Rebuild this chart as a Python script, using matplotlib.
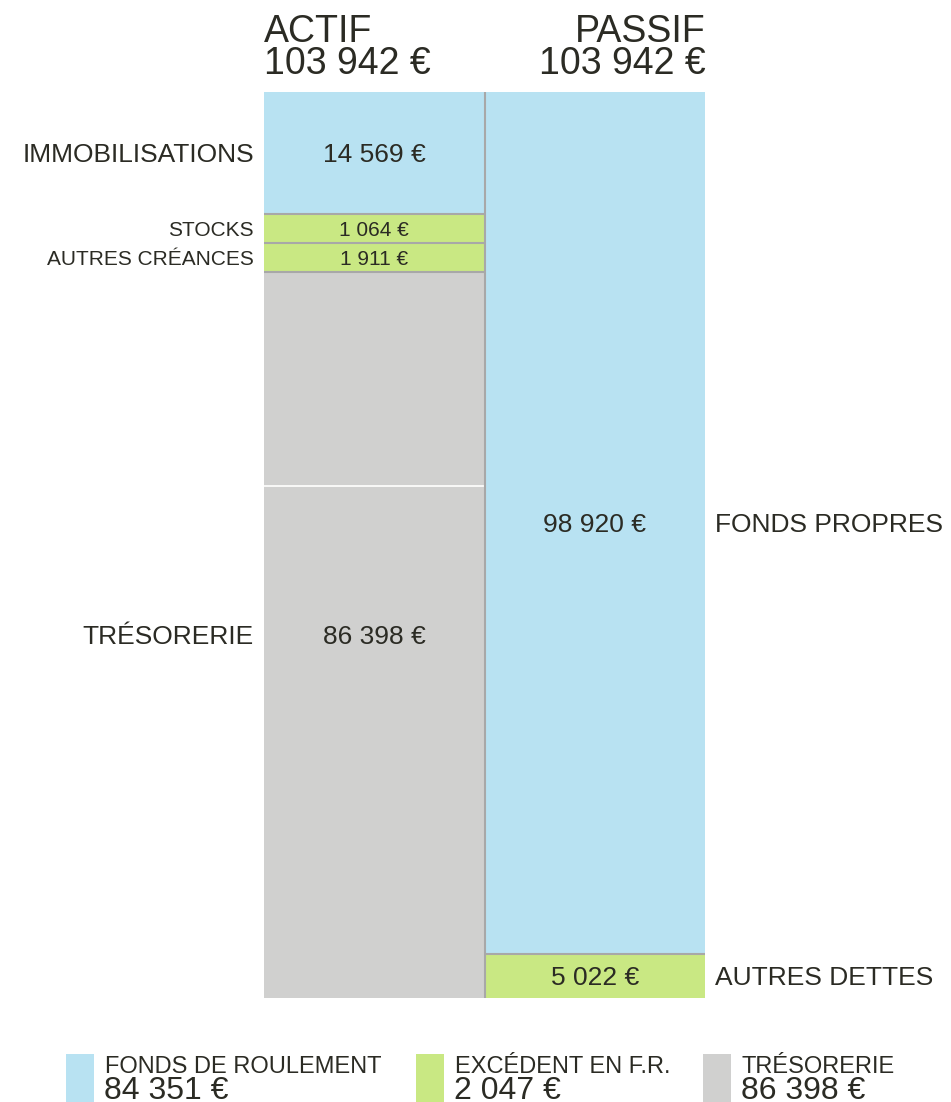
import matplotlib.pyplot as plt
from matplotlib.patches import Rectangle

plt.rcParams['font.family'] = ['Liberation Sans', 'DejaVu Sans']

# bilan simplifié
actif_labels = ['IMMOBILISATIONS', 'STOCKS', 'AUTRES CRÉANCES', 'TRÉSORERIE']
actif_values = [14569, 1064, 1911, 86398]
actif_groups = ['fr', 'exc', 'exc', 'tre']
tresorerie_parts = [25500, 60898]

passif_labels = ['FONDS PROPRES', 'AUTRES DETTES']
passif_values = [98920, 5022]
passif_groups = ['fr', 'exc']

legend_labels = ['FONDS DE ROULEMENT', 'EXCÉDENT EN F.R.', 'TRÉSORERIE']
legend_values = [84351, 2047, 86398]
legend_groups = ['fr', 'exc', 'tre']

colors = {'fr': '#b8e2f2', 'exc': '#c9e883', 'tre': '#d0d0cf'}
ink = '#2b2b24'
sep = '#a8a8a8'


def euro(v):
    return f"{v:,}".replace(",", " ") + " €"


total = sum(passif_values)
min_share = 30 / 906


def display_heights(values):
    h = [max(v, total * min_share) for v in values]
    k = total / sum(h)
    return [x * k for x in h]


W, H = 951, 1102
fig = plt.figure(figsize=(W / 100, H / 100), dpi=100)
ax = fig.add_axes([264 / W, 104 / H, 441 / W, 906 / H])
ax.set_xlim(0, 2)
ax.set_ylim(total, 0)
ax.axis('off')


def draw_column(x0, labels, values, groups, side):
    heights = display_heights(values)
    bottom = 0
    for i, (lab, v, g, h) in enumerate(zip(labels, values, groups, heights)):
        small = v < total * min_share
        fs = 15 if small else 19
        if g == 'tre':
            sub = [h * p / sum(tresorerie_parts) for p in tresorerie_parts]
            b = bottom
            for s in sub:
                ax.bar(x0 + 0.5, s, bottom=b, width=1, color=colors[g], linewidth=0)
                b += s
            ax.hlines(bottom + sub[0], x0, x0 + 1, colors='white', lw=1.2)
        else:
            ax.bar(x0 + 0.5, h, bottom=bottom, width=1, color=colors[g], linewidth=0)
        if i > 0:
            ax.hlines(bottom, x0, x0 + 1, colors=sep, lw=1.5)
        mid = bottom + h / 2
        ax.annotate(euro(v), (x0 + 0.5, mid), xytext=(0, -2), textcoords='offset pixels',
                    ha='center', va='center', fontsize=fs, color=ink)
        if side == 'left':
            ax.annotate(lab, (x0, mid), xytext=(-10, -2), textcoords='offset pixels',
                        ha='right', va='center', fontsize=fs, color=ink)
        else:
            ax.annotate(lab, (x0 + 1, mid), xytext=(10, -2), textcoords='offset pixels',
                        ha='left', va='center', fontsize=fs, color=ink)
        bottom += h


draw_column(0, actif_labels, actif_values, actif_groups, 'left')
draw_column(1, passif_labels, passif_values, passif_groups, 'right')
ax.axvline(1, color=sep, lw=1.5)

# titres
fig.text(264 / W, 1 - 42 / H, 'ACTIF', fontsize=27, color=ink, ha='left', va='baseline')
fig.text(264 / W, 1 - 74 / H, euro(sum(actif_values)), fontsize=27, color=ink, ha='left', va='baseline')
fig.text(706 / W, 1 - 42 / H, 'PASSIF', fontsize=27, color=ink, ha='right', va='baseline')
fig.text(706 / W, 1 - 74 / H, euro(sum(passif_values)), fontsize=27, color=ink, ha='right', va='baseline')

# légende
for xs, lab, v, g in zip([66, 416, 703], legend_labels, legend_values, legend_groups):
    fig.add_artist(Rectangle((xs / W, 0), 28 / W, 48 / H, transform=fig.transFigure,
                             facecolor=colors[g], edgecolor='none'))
    fig.text((xs + 39) / W, 1 - 1073 / H, lab, fontsize=17, color=ink, ha='left', va='baseline')
    fig.text((xs + 38) / W, 1 - 1099 / H, euro(v), fontsize=23, color=ink, ha='left', va='baseline')

fig.savefig('out.png', dpi=100)
